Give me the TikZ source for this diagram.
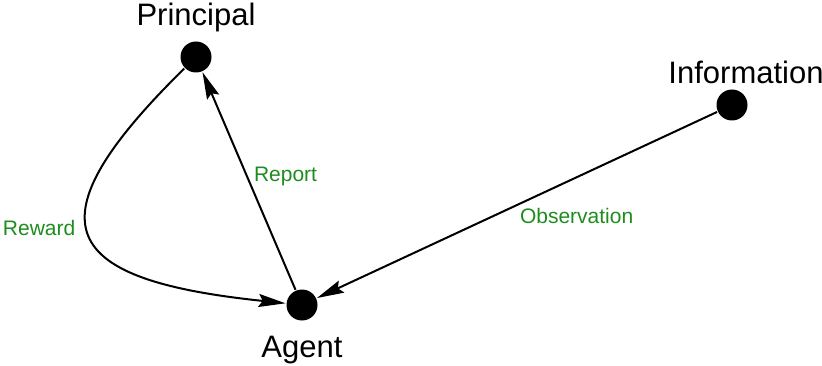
\documentclass[tikz,border=0pt]{standalone}
\usepackage{fontspec}
\setmainfont{Liberation Sans}
\usetikzlibrary{positioning, arrows.meta}
\definecolor{lblgreen}{RGB}{30,140,30}

\begin{document}
\begin{tikzpicture}[x=1pt, y=-1pt, line width=2pt,
        dotnode/.style = {circle, fill=black, inner sep=0, minimum size=31pt},
        namelbl/.style = {inner sep=0, font=\fontsize{31}{36}\selectfont},
        edgelbl/.style = {inner sep=0, text=lblgreen, font=\fontsize{21}{25}\selectfont},
        >={Stealth[length=27pt, width=13pt, inset=4pt]}]
        \useasboundingbox (0,0) rectangle (822,366);

        \node[dotnode] (princ) at (196,57) {};
        \node[dotnode] (agent) at (302,305) {};
        \node[dotnode] (info) at (732,105) {};

        \node[namelbl] (princname) [above=8pt of princ] {Principal};
        \node[namelbl] (agentname) [below=14pt of agent] {Agent};
        \node[namelbl] (infoname) [above=3.5pt of info, xshift=14pt] {Information};

        \draw[->] (agent) -- (princ) node [edgelbl, midway, right, xshift=4pt, yshift=5pt] {Report};
        \draw[->] (princ) .. controls (24,226) and (62,280) .. (agent)
            node [edgelbl, pos=0.4, left, xshift=-10pt, yshift=-15.5pt] {Reward};
        \draw[->] (info) -- (agent) node [edgelbl, midway, below right, xshift=2pt, yshift=-2pt] {Observation};

    \end{tikzpicture}
\end{document}
